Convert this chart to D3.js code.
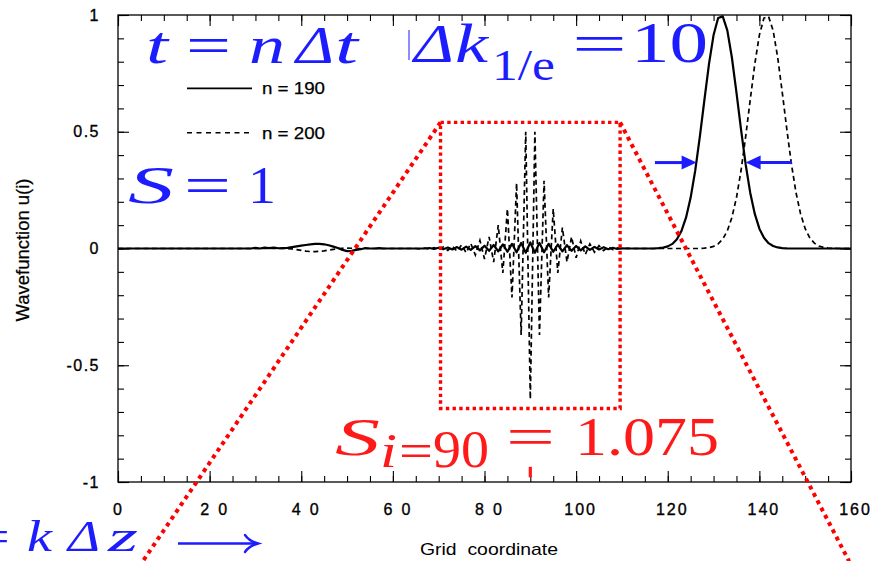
<!DOCTYPE html>
<html><head><meta charset="utf-8">
<script src="https://cdn.jsdelivr.net/npm/d3@7"></script>
<style>body{margin:0;background:#fff}svg{display:block}</style>
</head><body>
<svg id="chart" width="881" height="561"></svg>
<script>
// ---------------- DATA ----------------
const gridX = d3.range(0, 161);   // grid coordinate i = 0..160
// Wavefunction u(i) at time step n = 190 (solid)
const uN190 = [
  0,0,0,0,0,0,0,0,0,0,
  0,0,0,0,0,0,0,0,0,0,
  0,0,0,0,0,0,0,0,0,0,
  0.003,0,0.004,0.002,0.004,0.001,0.002,0.003,0.006,0.009,
  0.012,0.015,0.018,0.02,0.02,0.018,0.014,0.008,0.002,-0.006,
  -0.011,-0.01,-0.006,-0.003,0.002,0,0,0.002,0,0,
  0,0,0,0,0,0,0,0,0.002,-0.002,
  0.003,-0.003,0.004,-0.004,0.006,-0.005,0.008,-0.006,0.01,-0.008,
  0.012,-0.01,0.015,-0.012,0.018,-0.014,0.02,-0.016,0.024,-0.018,
  0.026,-0.018,0.024,-0.016,0.02,-0.014,0.017,-0.012,0.014,-0.01,
  0.011,-0.008,0.009,-0.006,0.007,-0.004,0.005,-0.003,0.003,-0.002,
  0.001,0,0,0,0,0,0,0,0.0016,0.0039,
  0.0091,0.0197,0.04,0.0755,0.133,0.218,0.334,0.478,0.636,0.79,
  0.914,0.987,0.994,0.934,0.818,0.668,0.509,0.361,0.239,0.148,
  0.085,0.0457,0.0228,0.0107,0.0046,0.0019,0.0007,0,0,0,
  0,0,0,0,0,0,0,0,0,0,0
];
// Wavefunction u(i) at time step n = 200 (dashed)
const uN200 = [
  0,0,0,0,0,0,0,0,0,0,
  0,0,0,0,0,0,0,0,0,0,
  0,0,0,0,0,0,0,0,0,0,
  0,0,0,0,0,0,0,0,-0.002,-0.005,
  -0.008,-0.011,-0.013,-0.013,-0.012,-0.01,-0.007,-0.004,-0.001,0.001,
  0.002,0.001,0,0,0,0,0,0,0,0,
  0,0,0,0,0,0,-0.002,0.002,-0.003,0.004,
  -0.005,0.006,-0.008,0.01,-0.012,0.015,-0.018,0.022,-0.028,0.035,
  -0.045,0.05,-0.058,0.1,-0.105,0.17,-0.21,0.28,-0.37,0.5,
  -0.645,0.5,-0.37,0.29,-0.21,0.17,-0.105,0.09,-0.058,0.05,
  -0.04,0.032,-0.026,0.02,-0.016,0.012,-0.009,0.007,-0.005,0.003,
  -0.002,0.001,0,0,0,0,0,0,0,0,
  0,0,0,0,0,0,0,0,0.0016,0.0039,
  0.0091,0.0197,0.04,0.0755,0.133,0.218,0.334,0.478,0.636,0.79,
  0.914,0.987,0.994,0.934,0.818,0.668,0.509,0.361,0.239,0.148,
  0.085,0.0457,0.0228,0.0107,0.0046,0.0019,0.0007,0,0,0,
  0
];
const seriesNames = ["n = 190", "n = 200"];
const xTickValues = [0, 20, 40, 60, 80, 100, 120, 140, 160];
const xTickLabels = ["0", "20", "40", "60", "80", "100", "120", "140", "160"];
const xMinorValues = d3.range(0, 161, 5);
const yTickValues = [-1, -0.5, 0, 0.5, 1];
const yTickLabels = ["-1", "-0.5", "0", "0.5", "1"];
const yMinorValues = d3.range(-10, 11).map(k => k / 10);
const xTitle = "Grid  coordinate";
const yTitle = "Wavefunction u(i)";
// annotation quantities (data units)
const levelOneOverE = 0.368;
const arrowLeftX = [117.2, 126.3];   // tail, tip
const arrowRightX = [147.1, 137.0];  // tail, tip
const markerI = 90;
const zoomBoxX = [70.4, 109.6];
const zoomBoxY = [-0.685, 0.54];
const zoomRayEndsX = [5.4, 159.6];
const zoomRayEndY = -1.34;

// ---------------- CHART ----------------
const svg = d3.select("#chart");
const x = d3.scaleLinear().domain([0, 160]).range([118, 851]);
const y = d3.scaleLinear().domain([-1, 1]).range([482, 15]);
const BLUE = "#1c1cff", RED = "#ff1a1a";
const sans = "'Liberation Sans', Arial, Helvetica, sans-serif";
const serif = "'Liberation Serif', 'Times New Roman', serif";

function axisPair(axisFn, g, minorVals, majorVals, labels, pad) {
  g.call(axisFn.tickValues(minorVals).tickSize(-6).tickFormat(""))
   .call(s => s.select(".domain").remove())
   .call(s => s.selectAll("text").remove());
  const gm = g.append("g");
  gm.call(axisFn.tickValues(majorVals).tickSize(-11).tickPadding(pad)
     .tickFormat((d, i) => labels ? labels[i] : ""))
    .call(s => s.select(".domain").remove());
  if (!labels) gm.selectAll("text").remove();
  g.selectAll("line").attr("stroke", "#000").attr("stroke-width", 1.1);
  return gm;
}

const gB = svg.append("g").attr("transform", "translate(0,482)");
const gBm = axisPair(d3.axisBottom(x), gB, xMinorValues, xTickValues, xTickLabels, 22);
gBm.selectAll("text")
  .attr("font-family", sans).attr("font-size", 16).attr("fill", "#000")
  .attr("stroke", "#000").attr("stroke-width", 0.35)
  .attr("letter-spacing", (d, i) => xTickLabels[i].length === 2 ? 9 : 2)
  .attr("dx", (d, i) => xTickLabels[i].length === 1 ? 0 : (xTickLabels[i].length === 2 ? 8 : 4));

const gT = svg.append("g").attr("transform", "translate(0,15)");
axisPair(d3.axisTop(x), gT, xMinorValues, xTickValues, null, 0);

const gL = svg.append("g").attr("transform", "translate(118,0)");
const gLm = axisPair(d3.axisLeft(y), gL, yMinorValues, yTickValues, yTickLabels, 18);
gLm.selectAll("text")
  .attr("font-family", sans).attr("font-size", 16).attr("fill", "#000")
  .attr("stroke", "#000").attr("stroke-width", 0.35)
  .attr("letter-spacing", 1.5);

const gR = svg.append("g").attr("transform", "translate(851,0)");
axisPair(d3.axisRight(y), gR, yMinorValues, yTickValues, null, 0);

// frame
svg.append("rect").attr("x", x(0)).attr("y", y(1))
  .attr("width", x(160) - x(0)).attr("height", y(-1) - y(1))
  .attr("fill", "none").attr("stroke", "#000").attr("stroke-width", 1.3);

// curves
const line = d3.line().x((d, i) => x(gridX[i])).y(d => y(d));
svg.append("path").datum(uN200).attr("d", line)
  .attr("fill", "none").attr("stroke", "#000").attr("stroke-width", 1.7)
  .attr("stroke-dasharray", "5,3.5");
svg.append("path").datum(uN190).attr("d", line)
  .attr("fill", "none").attr("stroke", "#000").attr("stroke-width", 2.2)
  .attr("stroke-linejoin", "round");

// legend
const legY = [88.3, 132.7];
seriesNames.forEach((name, k) => {
  svg.append("line").attr("x1", 187).attr("x2", 252).attr("y1", legY[k]).attr("y2", legY[k])
    .attr("stroke", "#000").attr("stroke-width", k === 0 ? 1.8 : 1.6)
    .attr("stroke-dasharray", k === 0 ? null : "5,4.5");
  svg.append("text").attr("x", 262).attr("y", legY[k] + 6).text(name)
    .attr("font-family", sans).attr("font-size", 17).attr("fill", "#000")
    .attr("stroke", "#000").attr("stroke-width", 0.25)
    .attr("textLength", 63).attr("lengthAdjust", "spacingAndGlyphs");
});

// axis titles
svg.append("text").attr("x", 420).attr("y", 555).text(xTitle)
  .attr("font-family", sans).attr("font-size", 17).attr("fill", "#000")
  .style("white-space", "pre").attr("textLength", 138).attr("lengthAdjust", "spacingAndGlyphs");
svg.append("text").attr("transform", "translate(29,250) rotate(-90)")
  .attr("text-anchor", "middle").text(yTitle)
  .attr("font-family", sans).attr("font-size", 18).attr("fill", "#000")
  .attr("stroke", "#000").attr("stroke-width", 0.25)
  .attr("textLength", 143).attr("lengthAdjust", "spacingAndGlyphs");

// ---------------- ANNOTATIONS ----------------
// red dotted zoom frame
const red = svg.append("g").attr("fill", "none").attr("stroke", "#ff0000");
red.append("rect").attr("x", x(zoomBoxX[0])).attr("y", y(zoomBoxY[1]))
  .attr("width", x(zoomBoxX[1]) - x(zoomBoxX[0])).attr("height", y(zoomBoxY[0]) - y(zoomBoxY[1]))
  .attr("stroke-width", 3.4).attr("stroke-dasharray", "3.4,3.3");
[[zoomBoxX[0], zoomRayEndsX[0]], [zoomBoxX[1], zoomRayEndsX[1]]].forEach(([a, b]) => {
  red.append("line").attr("x1", x(a)).attr("y1", y(zoomBoxY[1]))
    .attr("x2", x(b)).attr("y2", y(zoomRayEndY))
    .attr("stroke-width", 4).attr("stroke-dasharray", "4,4.2");
});
// red tick at i = 90
svg.append("line").attr("x1", x(markerI)).attr("x2", x(markerI))
  .attr("y1", y(-0.935)).attr("y2", y(-0.98))
  .attr("stroke", RED).attr("stroke-width", 3.2);

// blue arrows at 1/e level
function arrow(x0, x1) {
  const yy = y(levelOneOverE), dir = Math.sign(x1 - x0);
  const px0 = x(x0), px1 = x(x1), head = 15;
  svg.append("line").attr("x1", px0).attr("x2", px1 - dir * head + dir * 1).attr("y1", yy).attr("y2", yy)
    .attr("stroke", BLUE).attr("stroke-width", 3);
  svg.append("path").attr("d", `M${px1},${yy} L${px1 - dir * head},${yy - 7} L${px1 - dir * head},${yy + 7} Z`)
    .attr("fill", BLUE);
}
arrow(arrowLeftX[0], arrowLeftX[1]);
arrow(arrowRightX[0], arrowRightX[1]);

// math-like text tokens
function tok(color, str, xl, yb, size, w, italic, fam) {
  const t = svg.append("text").attr("x", xl).attr("y", yb).text(str)
    .attr("font-family", fam || serif).attr("font-size", size)
    .attr("font-style", italic ? "italic" : "normal").attr("fill", color);
  if (w) t.attr("textLength", w).attr("lengthAdjust", "spacingAndGlyphs");
  return t;
}
// t = n Δt
tok(BLUE, "t", 146, 63, 52, 22, true);
tok(BLUE, "=", 186, 63, 52, 45, false);
tok(BLUE, "n", 249, 63, 52, 36, true);
tok(BLUE, "Δ", 296, 63, 52, 38, true);
tok(BLUE, "t", 335, 63, 52, 23, true);
// Δk_{1/e} = 10
svg.append("line").attr("x1", 409).attr("x2", 409).attr("y1", 30).attr("y2", 60)
  .attr("stroke", "#8c8cff").attr("stroke-width", 2);
tok(BLUE, "Δ", 414, 62, 54, 40, true);
tok(BLUE, "k", 455, 62, 54, 33, true);
tok(BLUE, "1/e", 492, 80, 44, 63, false);
tok(BLUE, "=", 572, 62, 54, 55, false);
tok(BLUE, "10", 631, 62, 56, 77, false);
// S = 1
tok(BLUE, "S", 128, 203, 52, 46, true);
tok(BLUE, "=", 184, 203, 52, 47, false);
tok(BLUE, "1", 248, 203, 52, 28, false);
// S_{i=90} = 1.075
tok(RED, "S", 335, 455, 52, 45, true);
tok(RED, "i", 380, 467, 48, 17, true);
tok(RED, "=", 399, 467, 48, 34, false);
tok(RED, "90", 433, 467, 52, 56, false);
tok(RED, "=", 506, 455, 54, 49, false);
tok(RED, "1.075", 575, 455, 54, 144, false);
// = k Δz  (the "=" is partly cut at the left edge, as in the reference)
tok(BLUE, "=", -26, 551, 44, 36, false);
tok(BLUE, "k", 27, 551, 44, 25, true);
tok(BLUE, "Δ", 68, 551, 44, 32, true);
tok(BLUE, "z", 108, 551, 44, 30, true);
// long right arrow
svg.append("line").attr("x1", 178).attr("x2", 256).attr("y1", 543.5).attr("y2", 543.5)
  .attr("stroke", BLUE).attr("stroke-width", 2.4);
svg.append("path").attr("d", "M245,535 Q249,541 258,543.5 Q249,546 245,552")
  .attr("fill", "none").attr("stroke", BLUE).attr("stroke-width", 2.4).attr("stroke-linecap", "round");
</script>
</body></html>
